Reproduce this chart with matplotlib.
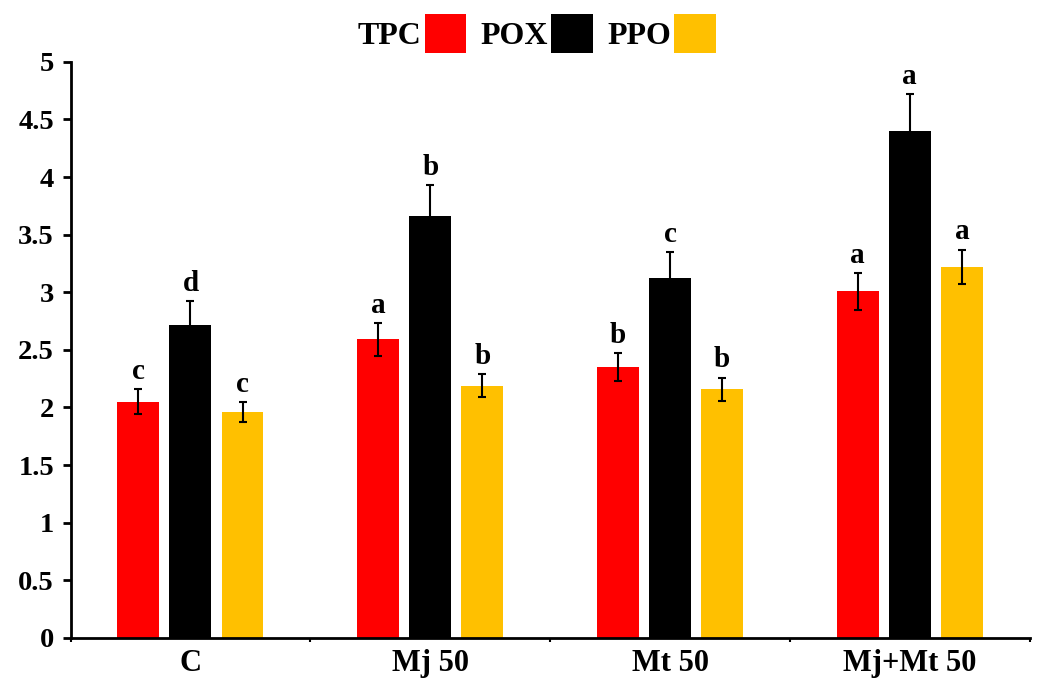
import matplotlib.pyplot as plt
import numpy as np

plt.rcParams['font.family'] = ['Liberation Serif', 'DejaVu Serif']
plt.rcParams['font.weight'] = 'bold'

# data
groups = ['C', 'Mj 50', 'Mt 50', 'Mj+Mt 50']
series = ['TPC', 'POX', 'PPO']
tpc = [2.05, 2.59, 2.35, 3.01]
pox = [2.72, 3.66, 3.12, 4.40]
ppo = [1.96, 2.19, 2.16, 3.22]
tpc_err = [0.11, 0.14, 0.12, 0.16]
pox_err = [0.20, 0.27, 0.23, 0.32]
ppo_err = [0.09, 0.10, 0.10, 0.15]
tpc_lab = ['c', 'a', 'b', 'a']
pox_lab = ['d', 'b', 'c', 'a']
ppo_lab = ['c', 'b', 'b', 'a']
colors = ['#FF0000', '#000000', '#FFC000']

fig = plt.figure(figsize=(10.38, 6.8), dpi=100)
ax = fig.add_axes([0.068, 0.062, 0.924, 0.847])

x = np.arange(len(groups))
w = 0.175
step = 0.217
vals = [tpc, pox, ppo]
errs = [tpc_err, pox_err, ppo_err]
labs = [tpc_lab, pox_lab, ppo_lab]

for i in range(3):
    pos = x + (i - 1) * step
    ax.bar(pos, vals[i], w, color=colors[i], label=series[i],
           yerr=errs[i], error_kw=dict(ecolor='black', elinewidth=1.5, capsize=3, capthick=1.5))
    for p, v, e, t in zip(pos, vals[i], errs[i], labs[i]):
        ax.annotate(t, (p, v + e), xytext=(0, 3), textcoords='offset points',
                    ha='center', va='bottom', fontsize=21, fontweight='bold')

ax.set_xlim(-0.5, len(groups) - 0.5)
ax.set_ylim(0, 5)
ax.set_yticks(np.arange(0, 5.01, 0.5))
ax.set_yticklabels(['0', '0.5', '1', '1.5', '2', '2.5', '3', '3.5', '4', '4.5', '5'])
# small ticks between groups, labels at group centres
ax.set_xticks(np.arange(-0.5, len(groups), 1.0))
ax.set_xticklabels([])
ax.set_xticks(x, minor=True)
ax.set_xticklabels(groups, minor=True, fontsize=22, fontweight='bold')
ax.tick_params(axis='x', which='major', direction='out', length=3, width=1.5)
ax.tick_params(axis='x', which='minor', length=0, pad=8)
ax.tick_params(axis='y', direction='out', length=6, width=2, labelsize=20.5, pad=6)
ax.spines['top'].set_visible(False)
ax.spines['right'].set_visible(False)
ax.spines['left'].set_linewidth(2)
ax.spines['bottom'].set_linewidth(2)

leg = fig.legend(loc='upper center', bbox_to_anchor=(0.517, 1.022), ncol=3, frameon=False,
                 markerfirst=False, fontsize=23, handlelength=1.3, handleheight=1.5,
                 handletextpad=0.1, columnspacing=0.45)

fig.savefig('out.png', dpi=100)
